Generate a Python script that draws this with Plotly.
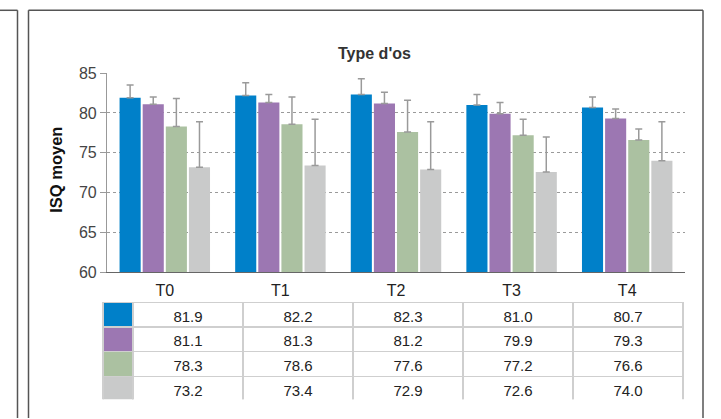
import plotly.graph_objects as go

# Mean ISQ per time point and bone type, with the upper standard deviation
periods = ["T0", "T1", "T2", "T3", "T4"]
blue_vals = [81.9, 82.2, 82.3, 81.0, 80.7]
purple_vals = [81.1, 81.3, 81.2, 79.9, 79.3]
green_vals = [78.3, 78.6, 77.6, 77.2, 76.6]
gray_vals = [73.2, 73.4, 72.9, 72.6, 74.0]

blue_sd = [1.6, 1.6, 2.0, 1.3, 1.3]
purple_sd = [0.9, 1.0, 1.4, 1.4, 1.2]
green_sd = [3.5, 3.4, 4.0, 2.0, 1.4]
gray_sd = [5.7, 5.8, 6.0, 4.4, 4.9]

y_ticks = [60, 65, 70, 75, 80, 85]

COLORS = ["#0080C9", "#9C77B2", "#ABC1A1", "#C9CACA"]
series = [blue_vals, purple_vals, green_vals, gray_vals]
errors = [blue_sd, purple_sd, green_sd, gray_sd]

# page geometry: 8px body margin above the figure, page shown at 419/435 vertically
VIEW_W, VIEW_H, BODY = 721, 419, 8
PAGE_H = VIEW_H + 2 * BODY
W, H = VIEW_W, PAGE_H - BODY
FONT = "Liberation Sans, Arial, sans-serif"


def px_x(x):
    return x / W


def px_y(y):
    return 1 - (y * PAGE_H / VIEW_H - BODY) / H


fig = go.Figure()

for vals, err, col in zip(series, errors, COLORS):
    fig.add_trace(go.Bar(
        x=periods, y=vals, marker=dict(color=col, line=dict(width=0)),
        error_y=dict(type="data", array=err, arrayminus=[0] * len(err), symmetric=False,
                     color="#9a9a9a", thickness=1.5, width=3.5),
        showlegend=False, hoverinfo="skip",
    ))

# Data table under the chart: colour swatch column followed by one column per period
rows = [[f"{v:.1f}" for v in s] for s in series]
header_vals = [""] + rows[0]
cell_cols = [["", "", ""]] + [[rows[r][c] for r in range(1, 4)] for c in range(len(periods))]
cell_fill = [COLORS[1:]] + [["white"] * 3 for _ in periods]
header_fill = [COLORS[0]] + ["white"] * len(periods)
row_h = 23.75 * PAGE_H / VIEW_H

fig.add_trace(go.Table(
    domain=dict(x=[px_x(103), px_x(683)], y=[px_y(401), px_y(303)]),
    columnwidth=[30, 110, 110, 110, 110, 110],
    header=dict(values=header_vals, fill=dict(color=header_fill),
                line=dict(color="#cfcfcf", width=1.2), height=row_h, align="center",
                font=dict(family=FONT, size=15, color="#222")),
    cells=dict(values=cell_cols, fill=dict(color=cell_fill),
               line=dict(color="#cfcfcf", width=1.2), height=row_h, align="center",
               font=dict(family=FONT, size=15, color="#222")),
))

fig.update_layout(
    width=W, height=H, autosize=False,
    margin=dict(l=0, r=0, t=0, b=0),
    paper_bgcolor="white", plot_bgcolor="white",
    barmode="group", bargap=0.2, bargroupgap=0.087,
    font=dict(family=FONT, color="#333"),
    xaxis=dict(domain=[px_x(107), px_x(685)], showgrid=False, showline=True,
               linecolor="#666", linewidth=1.2, ticks="", tickfont=dict(size=16, color="#222"),
               ticklabelstandoff=3),
    yaxis=dict(domain=[px_y(273), px_y(73)], range=[60, 85], tickvals=y_ticks,
               showline=True, linecolor="#999", linewidth=1.2,
               showgrid=True, gridcolor="#9a9a9a", griddash="dot", gridwidth=1,
               ticks="outside", ticklen=6, tickcolor="#9a9a9a",
               tickfont=dict(size=16, color="#444"), zeroline=False),
    annotations=[
        dict(text="<b>Type d'os</b>", x=px_x(374.5), y=px_y(53), xref="paper", yref="paper",
             xanchor="center", yanchor="middle",
             showarrow=False, font=dict(size=16, color="#333")),
        dict(text="<b>ISQ moyen</b>", x=px_x(56), y=px_y(170), xref="paper", yref="paper",
             xanchor="center", yanchor="middle",
             showarrow=False, textangle=-90, font=dict(size=16.5, color="#111")),
    ],
    shapes=[
        # panel frames
        dict(type="line", xref="paper", yref="paper", x0=0, x1=px_x(17.5), y0=px_y(10), y1=px_y(10),
             line=dict(color="#555", width=1.5)),
        dict(type="line", xref="paper", yref="paper", x0=px_x(17.5), x1=px_x(17.5), y0=px_y(10), y1=0,
             line=dict(color="#555", width=1.5)),
        dict(type="line", xref="paper", yref="paper", x0=px_x(28.5), x1=px_x(28.5), y0=px_y(10), y1=0,
             line=dict(color="#555", width=1.5)),
        dict(type="line", xref="paper", yref="paper", x0=px_x(28.5), x1=px_x(703), y0=px_y(10), y1=px_y(10),
             line=dict(color="#555", width=1.5)),
        dict(type="line", xref="paper", yref="paper", x0=px_x(703), x1=px_x(703), y0=px_y(10), y1=0,
             line=dict(color="#555", width=1.5)),
    ],
)

fig.write_html("out.html")
